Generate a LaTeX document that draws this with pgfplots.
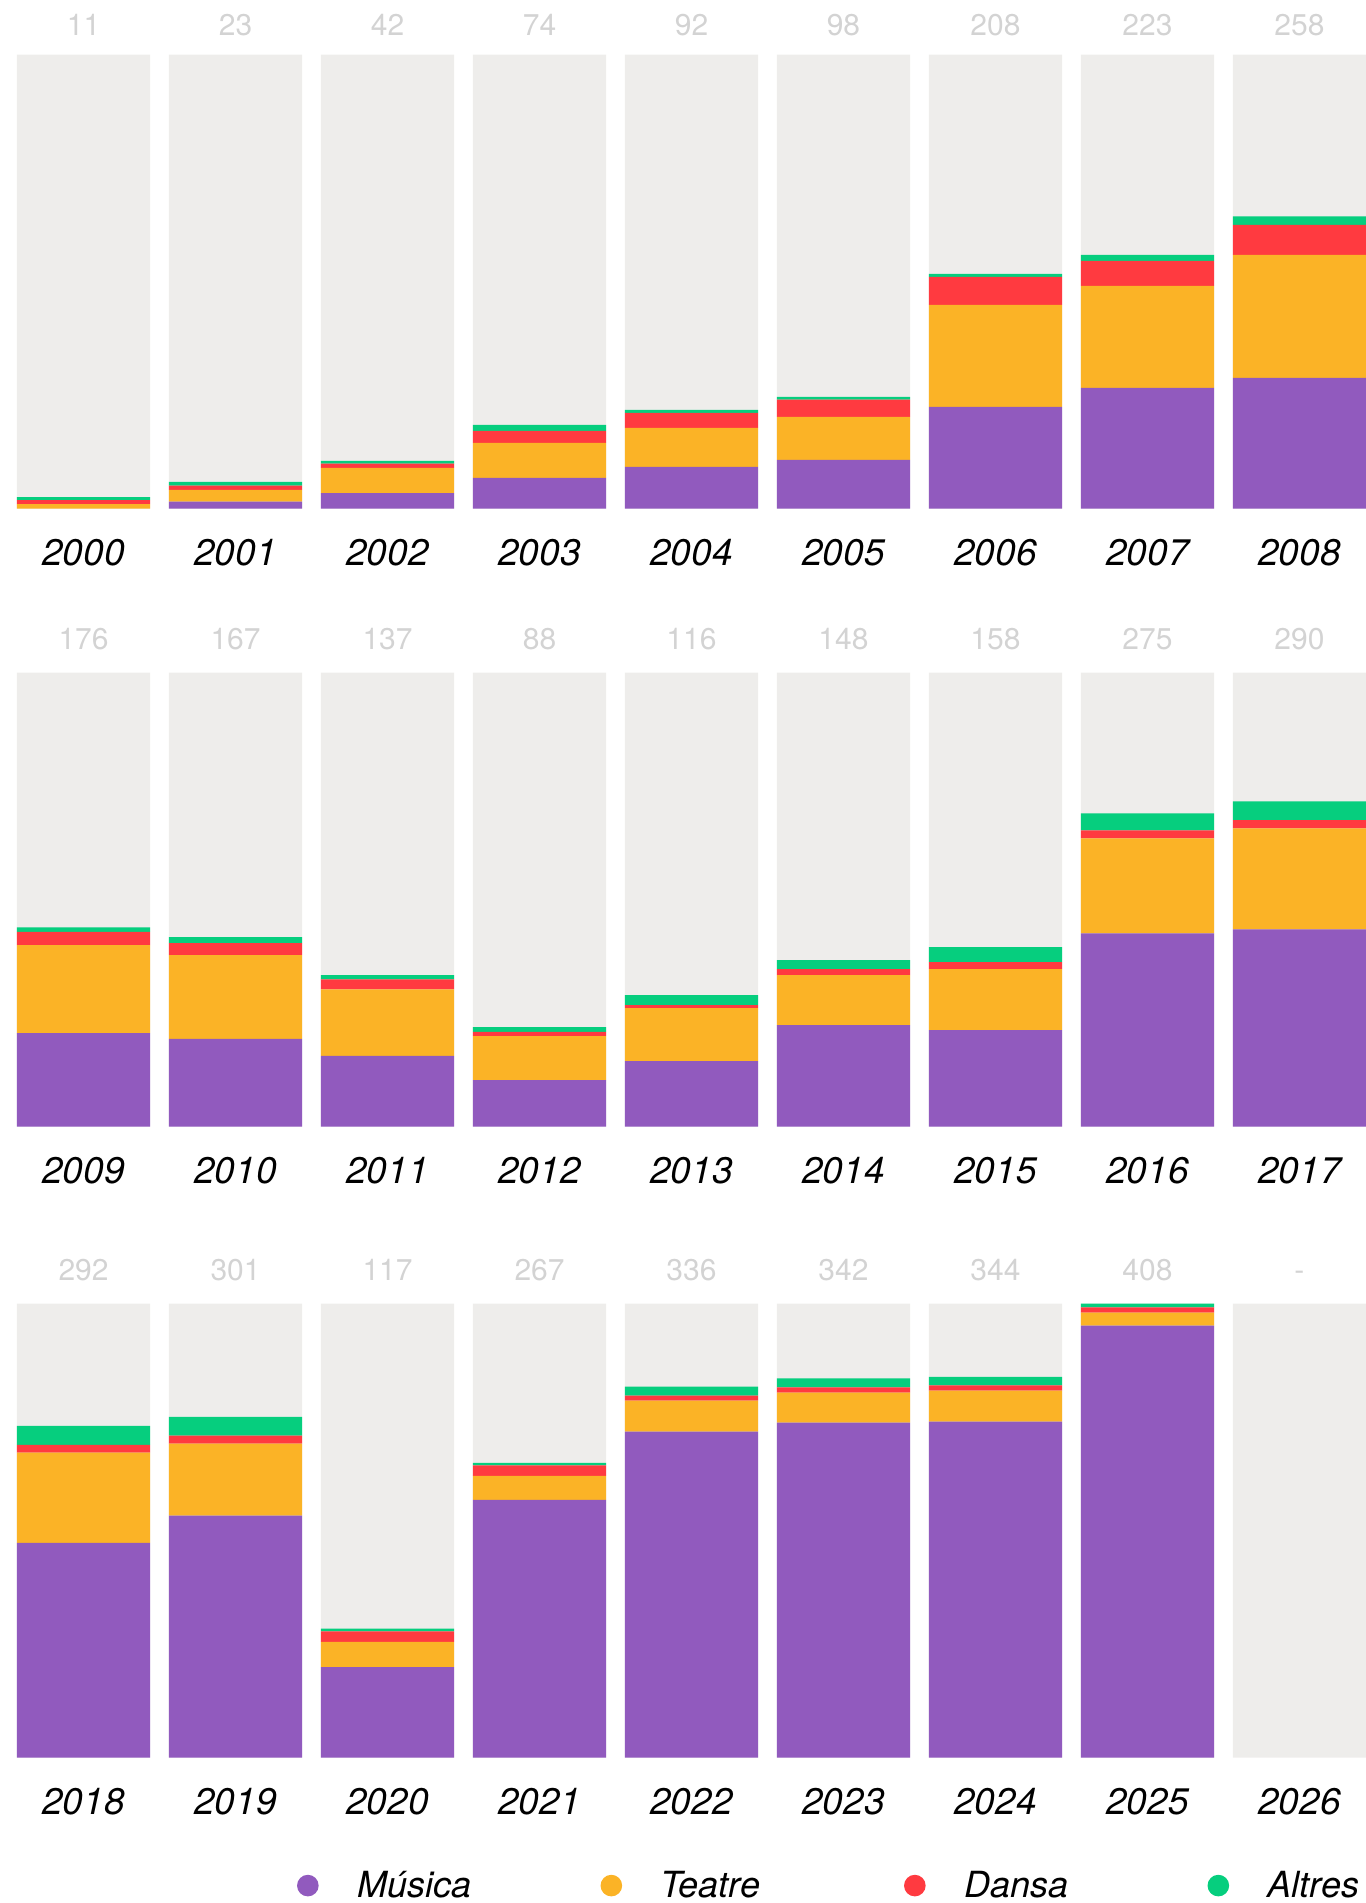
\documentclass[border=0pt]{standalone}
\usepackage{pgfplots}
\pgfplotsset{compat=1.18}
\usepackage{pgfplotstable}
\usepackage{fontspec}
\setmainfont{TeX Gyre Heros}
\definecolor{mus}{HTML}{915ABE}
\definecolor{tea}{HTML}{FBB326}
\definecolor{dan}{HTML}{FF3A40}
\definecolor{alt}{HTML}{06CE7E}
\definecolor{bgg}{HTML}{EEEDEB}
\definecolor{totg}{HTML}{D3D3D3}

\pgfplotstableread{
x mus tea dan alt bg tot
0 0 4.2 3.6 2.7 408 11
1 6.3 10.5 3.9 3.3 408 23
2 14.1 22.5 3.9 2.4 408 42
3 27.6 31.5 10.8 5.4 408 74
4 37.5 35.1 13.5 2.7 408 92
5 43.8 38.7 15.6 2.4 408 98
6 91.5 91.7 25.2 2.7 408 208
7 108.5 91.7 22.5 5.4 408 223
8 117.5 110.6 27.0 7.5 408 258
}\rowA
\pgfplotstableread{
x mus tea dan alt bg tot
0 84.1 79.0 11.9 4.2 408 176
1 79.0 75.1 10.8 5.4 408 167
2 63.7 59.8 9.0 3.6 408 137
3 41.9 39.5 3.9 4.2 408 88
4 59.0 47.6 2.7 9.0 408 116
5 91.3 44.9 5.4 8.1 408 148
6 86.8 54.7 6.3 13.5 408 158
7 173.8 85.2 7.2 15.3 408 275
8 177.4 90.6 7.5 16.8 408 290
}\rowB
\pgfplotstableread{
x mus tea dan alt bg tot
0 193.0 81.1 7.1 17.1 408 292
1 217.5 64.8 7.1 17.0 408 301
2 81.5 22.6 9.4 2.4 408 117
3 231.7 21.5 9.4 2.4 408 267
4 293.1 27.9 4.3 8.1 408 336
5 301.2 26.9 4.7 8.1 408 342
6 302.0 27.9 4.7 7.7 408 344
7 388.2 11.7 4.7 3.4 408 408
8 0 0 0 0 408 -
}\rowC

\pgfplotsset{
  base/.style={scale only axis, width=674.5pt, height=227pt,
    xmin=-0.438, xmax=8.438, ymin=0, ymax=408, enlargelimits=false,
    axis line style={draw=none}, tick style={draw=none}, ytick=\empty,
    clip=false, anchor=south west},
  bgaxis/.style={base, ybar, bar width=0.876, xtick={0,1,2,3,4,5,6,7,8},
    xticklabel style={font=\fontsize{18.5}{18.5}\selectfont\itshape, anchor=center,
      yshift=-17.4pt, text height=13pt, text depth=0pt},
    point meta=explicit symbolic, nodes near coords,
    every node near coord/.append style={font=\fontsize{15}{15}\selectfont,
      text=totg, anchor=center, text height=10.5pt, text depth=0pt, yshift=#1}},
  stkaxis/.style={base, ybar stacked, bar width=0.876, xtick=\empty},
  circ/.style={legend image code/.code={\fill[##1] (0pt,0pt) circle (5.4pt);}},
}

\begin{document}
\begin{tikzpicture}
\useasboundingbox (0,0) rectangle (683pt,951.5pt);
% ---------- row 1
\begin{axis}[bgaxis=14.75pt, at={(8.5pt,697.15pt)},
  xticklabels={2000,2001,2002,2003,2004,2005,2006,2007,2008}]
\addplot[fill=bgg, draw=none] table[x=x, y=bg, meta=tot]{\rowA};
\end{axis}
\begin{axis}[stkaxis, at={(8.5pt,697.15pt)}]
\addplot[fill=mus, draw=none] table[x=x, y=mus]{\rowA};
\addplot[fill=tea, draw=none] table[x=x, y=tea]{\rowA};
\addplot[fill=dan, draw=none] table[x=x, y=dan]{\rowA};
\addplot[fill=alt, draw=none] table[x=x, y=alt]{\rowA};
\end{axis}
% ---------- row 2
\begin{axis}[bgaxis=16.75pt, at={(8.5pt,388.15pt)},
  xticklabels={2009,2010,2011,2012,2013,2014,2015,2016,2017}]
\addplot[fill=bgg, draw=none] table[x=x, y=bg, meta=tot]{\rowB};
\end{axis}
\begin{axis}[stkaxis, at={(8.5pt,388.15pt)}]
\addplot[fill=mus, draw=none] table[x=x, y=mus]{\rowB};
\addplot[fill=tea, draw=none] table[x=x, y=tea]{\rowB};
\addplot[fill=dan, draw=none] table[x=x, y=dan]{\rowB};
\addplot[fill=alt, draw=none] table[x=x, y=alt]{\rowB};
\end{axis}
% ---------- row 3
\begin{axis}[bgaxis=16.75pt, at={(8.5pt,72.65pt)},
  xticklabels={2018,2019,2020,2021,2022,2023,2024,2025,2026}]
\addplot[fill=bgg, draw=none] table[x=x, y=bg, meta=tot]{\rowC};
\end{axis}
\begin{axis}[stkaxis, at={(8.5pt,72.65pt)},
  legend columns=4, legend cell align=left,
  legend style={draw=none, fill=none, inner sep=0pt,
    at={(0.2073,-0.2817)}, anchor=west,
    font=\fontsize{18}{18}\selectfont\itshape,
    nodes={inner sep=0pt},
    /tikz/every odd column/.append style={column sep=19.2pt},
    /tikz/every even column/.append style={column sep=61.75pt}}]
\addplot[fill=mus, draw=none, circ] table[x=x, y=mus]{\rowC};
\addlegendentry{\makebox[60pt][l]{Música}}
\addplot[fill=tea, draw=none, circ] table[x=x, y=tea]{\rowC};
\addlegendentry{\makebox[60pt][l]{Teatre}}
\addplot[fill=dan, draw=none, circ] table[x=x, y=dan]{\rowC};
\addlegendentry{\makebox[60pt][l]{Dansa}}
\addplot[fill=alt, draw=none, circ] table[x=x, y=alt]{\rowC};
\addlegendentry{\makebox[60pt][l]{Altres}}
\end{axis}
\end{tikzpicture}
\end{document}
